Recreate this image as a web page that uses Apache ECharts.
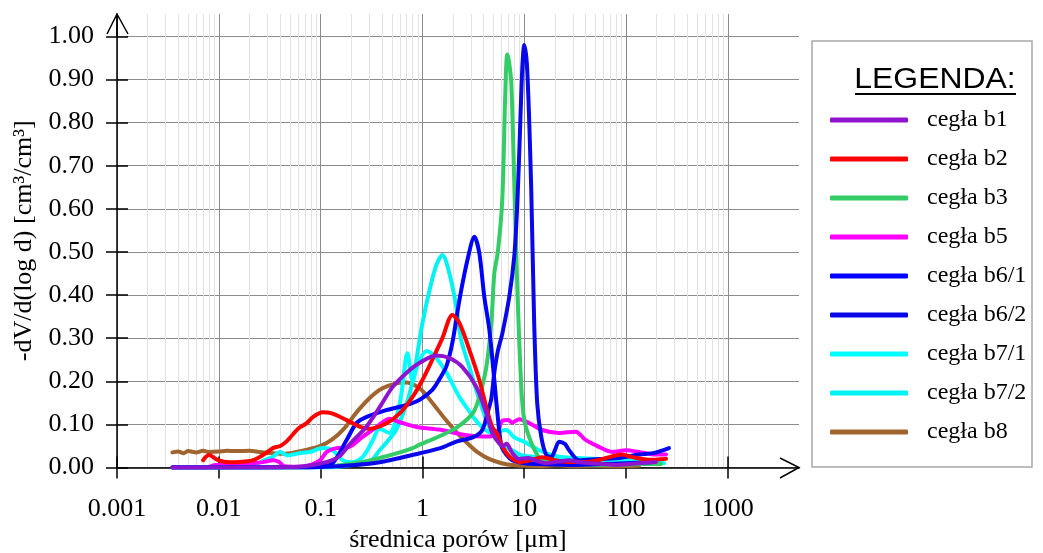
<!DOCTYPE html>
<html>
<head>
<meta charset="utf-8">
<script src="https://cdn.jsdelivr.net/npm/echarts@6/dist/echarts.min.js"></script>
<style>
  html, body { margin: 0; padding: 0; background: #fff; }
  #chart { width: 1043px; height: 553px; }
</style>
</head>
<body>
<div id="chart"></div>
<script>
// Axis ticks
const xTickValues = [0.001, 0.01, 0.1, 1, 10, 100, 1000];
const xTickLabels = ['0.001', '0.01', '0.1', '1', '10', '100', '1000'];
const yTickValues = [0, 0.1, 0.2, 0.3, 0.4, 0.5, 0.6, 0.7, 0.8, 0.9, 1.0];

// Series names (legend order) and colours
const seriesNames = ['cegła b1', 'cegła b2', 'cegła b3', 'cegła b5', 'cegła b6/1',
                     'cegła b6/2', 'cegła b7/1', 'cegła b7/2', 'cegła b8'];
const seriesColors = ['#9013CF', '#FF0000', '#33CC66', '#FF00FF', '#0000FF',
                      '#0808E8', '#00FFFF', '#00F2F2', '#A0642E'];

// Pore size distribution: [pore diameter in µm, dV/d(log d) in cm3/cm3]
const b1 = [[0.0035,0],[0.01,0],[0.03,0],[0.05,0.001],[0.07,0.003],[0.09,0.007],[0.12,0.014],
  [0.153,0.026],[0.2,0.058],[0.28,0.094],[0.38,0.14],[0.51,0.187],[0.7,0.22],[0.94,0.243],
  [1.37,0.26],[1.84,0.254],[2.47,0.233],[3.38,0.187],[4.24,0.126],[4.85,0.08],[5.5,0.06],
  [6.1,0.05],[6.7,0.055],[7.6,0.034],[8.9,0.02],[11,0.022],[13,0.016],[16.4,0.01],[22,0.014],
  [27.6,0.017],[35,0.012],[46,0.01],[80,0.006],[134,0.01],[197,0.013]];

const b2 = [[0.007,0.017],[0.008,0.029],[0.0098,0.017],[0.0128,0.012],[0.016,0.013],[0.021,0.016],
  [0.025,0.024],[0.03,0.036],[0.034,0.045],[0.04,0.05],[0.046,0.06],[0.053,0.076],[0.06,0.09],
  [0.073,0.103],[0.084,0.117],[0.105,0.128],[0.131,0.125],[0.18,0.11],[0.24,0.095],[0.3,0.09],
  [0.44,0.102],[0.6,0.126],[0.8,0.164],[1.0,0.203],[1.25,0.25],[1.57,0.30],[1.97,0.354],
  [2.31,0.335],[2.89,0.273],[3.62,0.203],[4.24,0.14],[4.85,0.094],[5.43,0.078],[6.08,0.05],
  [7.13,0.026],[8.93,0.013],[12,0.018],[15,0.024],[20,0.017],[26,0.013],[40,0.013],[55,0.018],
  [68,0.024],[91,0.03],[115,0.024],[168,0.018],[247,0.02]];

const b3 = [[0.0035,0],[0.05,0],[0.1,0.002],[0.153,0.005],[0.25,0.012],[0.38,0.022],[0.6,0.035],
  [0.8,0.045],[0.94,0.053],[1.3,0.067],[1.72,0.08],[2.15,0.092],[2.7,0.11],[3.2,0.13],
  [3.62,0.164],[4.24,0.233],[4.75,0.335],[5.08,0.45],[5.5,0.5],[6.08,0.62],[6.5,0.86],
  [6.81,0.958],[7.1,0.94],[7.47,0.89],[7.98,0.66],[8.54,0.42],[9.35,0.187],[10,0.11],
  [11.2,0.07],[13,0.035],[15,0.017],[20,0.01],[30,0.008],[50,0.006],[100,0.007],[150,0.008],[220,0.008]];

const b5 = [[0.0035,0],[0.0075,0],[0.009,0.005],[0.012,0.007],[0.016,0.008],[0.022,0.01],
  [0.028,0.013],[0.034,0.017],[0.039,0.013],[0.044,0.003],[0.06,0.002],[0.08,0.006],[0.099,0.017],
  [0.115,0.036],[0.144,0.045],[0.192,0.048],[0.258,0.071],[0.354,0.094],[0.475,0.113],[0.6,0.105],
  [0.87,0.094],[1.47,0.088],[2.7,0.075],[4.54,0.072],[5.4,0.08],[6.08,0.108],[7.0,0.11],
  [7.62,0.104],[8.93,0.112],[11.2,0.103],[15,0.087],[22,0.08],[32,0.083],[40,0.064],[54,0.048],
  [73,0.036],[100,0.04],[134,0.036],[197,0.03],[247,0.03]];

const b6_1 = [[0.0035,0],[0.05,0],[0.1,0.002],[0.131,0.01],[0.18,0.064],[0.225,0.103],[0.28,0.117],
  [0.44,0.133],[0.7,0.145],[0.94,0.157],[1.25,0.18],[1.47,0.205],[1.72,0.235],[1.97,0.29],
  [2.31,0.389],[2.76,0.48],[3.24,0.535],[3.62,0.497],[4.05,0.396],[4.54,0.32],[5.08,0.203],
  [5.43,0.13],[5.96,0.05],[6.66,0.03],[7.62,0.017],[10,0.01],[15,0.008],[30,0.006],[60,0.008],
  [100,0.01],[180,0.012]];

const b6_2 = [[0.0035,0],[0.1,0.001],[0.2,0.005],[0.38,0.012],[0.94,0.033],[1.5,0.045],[2.15,0.06],
  [3.2,0.071],[3.87,0.087],[4.4,0.13],[4.75,0.16],[5.08,0.22],[5.5,0.27],[6.08,0.31],[7.13,0.396],
  [7.98,0.49],[8.5,0.6],[8.93,0.729],[9.55,0.922],[10,0.98],[10.7,0.922],[11.7,0.65],[12.5,0.342],
  [13.4,0.15],[14.7,0.071],[16.4,0.03],[18.5,0.025],[20,0.04],[22,0.06],[25,0.055],[27.6,0.04],
  [34.6,0.017],[54,0.02],[85,0.022],[134,0.03],[190,0.034],[264,0.045]];

const b7_1 = [[0.0035,0],[0.02,0],[0.0225,0.005],[0.027,0.015],[0.034,0.025],[0.04,0.036],
  [0.047,0.028],[0.053,0.03],[0.065,0.034],[0.078,0.036],[0.105,0.045],[0.131,0.04],[0.164,0.017],
  [0.2,0.012],[0.258,0.024],[0.32,0.06],[0.38,0.09],[0.47,0.08],[0.6,0.15],[0.713,0.265],
  [0.8,0.2],[0.9,0.24],[1.1,0.27],[1.3,0.26],[1.72,0.22],[2.3,0.164],[2.7,0.14],[3.62,0.10],
  [4.85,0.08],[5.8,0.085],[6.66,0.087],[8,0.07],[10.5,0.057],[14,0.04],[22,0.025],[54,0.02],
  [134,0.015],[236,0.01]];

const b7_2 = [[0.0035,0],[0.1,0],[0.15,0.002],[0.2,0.006],[0.3,0.012],[0.38,0.04],[0.45,0.06],
  [0.55,0.087],[0.68,0.14],[0.8,0.2],[1.0,0.335],[1.17,0.41],[1.37,0.47],[1.57,0.493],[1.84,0.45],
  [2.15,0.373],[2.4,0.296],[2.89,0.233],[3.62,0.157],[4.54,0.094],[5.69,0.057],[7.62,0.04],
  [9,0.03],[12,0.025],[20,0.02],[40,0.015],[100,0.012],[200,0.01]];

const b8 = [[0.0035,0.035],[0.004,0.037],[0.0045,0.033],[0.005,0.038],[0.006,0.035],[0.007,0.039],
  [0.008,0.036],[0.01,0.037],[0.012,0.039],[0.015,0.038],[0.02,0.039],[0.025,0.036],[0.03,0.034],
  [0.04,0.032],[0.05,0.033],[0.07,0.04],[0.1,0.05],[0.13,0.065],[0.17,0.09],[0.22,0.125],
  [0.3,0.16],[0.4,0.183],[0.55,0.195],[0.7,0.197],[0.85,0.19],[1.0,0.178],[1.3,0.145],
  [1.7,0.11],[2.2,0.08],[2.8,0.055],[3.5,0.035],[4.5,0.02],[6,0.01],[8,0.005],[10,0.004],
  [15,0.003],[20,0.005],[30,0.003],[50,0.004],[80,0.003],[134,0.004]];

const seriesData = [b1, b2, b3, b5, b6_1, b6_2, b7_1, b7_2, b8];
// Drawing order (last is on top)
const drawOrder = [8, 7, 6, 3, 2, 5, 4, 1, 0];

// Minor (2..9 per decade) grid positions
const minorGrid = [];
for (let e = -3; e <= 2; e++) {
  for (let k = 2; k <= 9; k++) minorGrid.push(+(k * Math.pow(10, e)).toPrecision(3));
}

const serif = 'Liberation Serif';
const xMin = 0.000999;   // a hair below 1e-3 so the first decade tick survives float rounding
const xMax = 5000;

const chart = echarts.init(document.getElementById('chart'), null, { renderer: 'canvas' });

const baseX = {
  type: 'log', logBase: 10, min: xMin, max: xMax, position: 'bottom',
  axisLine: { show: false }, axisLabel: { show: false },
  axisTick: { show: false }, splitLine: { show: false }
};

chart.setOption({
  animation: false,
  backgroundColor: '#fff',
  grid: { left: 117, right: 244, top: 14, bottom: 85.5, containLabel: false, outerBoundsMode: 'none' },
  xAxis: [
    // light minor grid
    Object.assign({}, baseX, {
      axisTick: { show: false, customValues: minorGrid },
      splitLine: { show: true, lineStyle: { color: '#e2e2e2', width: 1 } }
    }),
    // main axis with decade labels
    Object.assign({}, baseX, {
      name: 'średnica porów [μm]', nameLocation: 'middle', nameGap: 60,
      nameTextStyle: { fontFamily: serif, fontSize: 26, color: '#000' },
      axisLine: { show: true, onZero: false, lineStyle: { color: '#000', width: 1.5 } },
      axisTick: { show: true, customValues: xTickValues, length: 11, lineStyle: { color: '#000', width: 1.5 } },
      axisLabel: {
        show: true, customValues: xTickValues, margin: 29,
        fontFamily: serif, fontSize: 26, color: '#000',
        formatter: v => xTickLabels[Math.round(Math.log10(v)) + 3]
      },
      splitLine: { show: true, lineStyle: { color: '#8c8c8c', width: 1 } }
    }),
    // inward half of the crossing ticks
    Object.assign({}, baseX, {
      axisTick: { show: true, inside: true, customValues: xTickValues, length: 11, lineStyle: { color: '#000', width: 1.5 } }
    })
  ],
  yAxis: [
    {
      type: 'value', min: 0, max: 1.052, position: 'left',
      name: '-dV/d(log d) [cm³/cm³]', nameLocation: 'middle', nameGap: 76,
      nameTextStyle: { fontFamily: serif, fontSize: 26, color: '#000' },
      axisLine: { show: true, onZero: false, lineStyle: { color: '#000', width: 1.5 } },
      axisTick: { show: true, customValues: yTickValues, length: 11, lineStyle: { color: '#000', width: 1.5 } },
      axisLabel: {
        customValues: yTickValues, margin: 23,
        fontFamily: serif, fontSize: 26, color: '#000',
        formatter: v => v.toFixed(2)
      },
      splitLine: { show: true, lineStyle: { color: '#8c8c8c', width: 1 } }
    },
    {
      type: 'value', min: 0, max: 1.052, position: 'left',
      axisLine: { show: false }, axisLabel: { show: false }, splitLine: { show: false },
      axisTick: { show: true, inside: true, customValues: yTickValues, length: 11, lineStyle: { color: '#000', width: 1.5 } }
    }
  ],
  legend: {
    data: seriesNames,
    orient: 'vertical', left: 830, top: 107, padding: 0,
    itemWidth: 78, itemHeight: 5, itemGap: 13,
    icon: 'roundRect', selectedMode: false,
    textStyle: { fontFamily: serif, fontSize: 24, color: '#000', lineHeight: 26, padding: [0, 0, 0, 14] }
  },
  graphic: [
    { type: 'rect', z: 0, shape: { x: 812, y: 41, width: 220, height: 426 },
      style: { fill: 'none', stroke: '#a8a8a8', lineWidth: 1.5 } },
    { type: 'text', x: 935, y: 80, scaleX: 1.1, z: 10,
      style: { text: 'LEGENDA:', font: '29px "Liberation Sans"', fill: '#000', align: 'center', verticalAlign: 'middle' } },
    { type: 'line', z: 10, shape: { x1: 855, y1: 94, x2: 1016, y2: 94 }, style: { stroke: '#000', lineWidth: 2 } },
    // axis arrow heads
    { type: 'polyline', z: 10, shape: { points: [[107, 34], [117, 14], [128, 34]] },
      style: { stroke: '#000', lineWidth: 1.5, fill: 'none' } },
    { type: 'line', z: 10, shape: { x1: 117, y1: 14, x2: 117, y2: 36 }, style: { stroke: '#000', lineWidth: 1.5 } },
    { type: 'polyline', z: 10, shape: { points: [[780, 458], [799, 467.5], [780, 478]] },
      style: { stroke: '#000', lineWidth: 1.5, fill: 'none' } }
  ],
  series: drawOrder.map(i => ({
    name: seriesNames[i],
    type: 'line',
    xAxisIndex: 1, yAxisIndex: 0,
    data: seriesData[i],
    showSymbol: false, symbol: 'none',
    smooth: 0.3,
    color: seriesColors[i],
    lineStyle: { width: 4, color: seriesColors[i], cap: 'round', join: 'round' },
    z: 3
  }))
});
</script>
</body>
</html>
